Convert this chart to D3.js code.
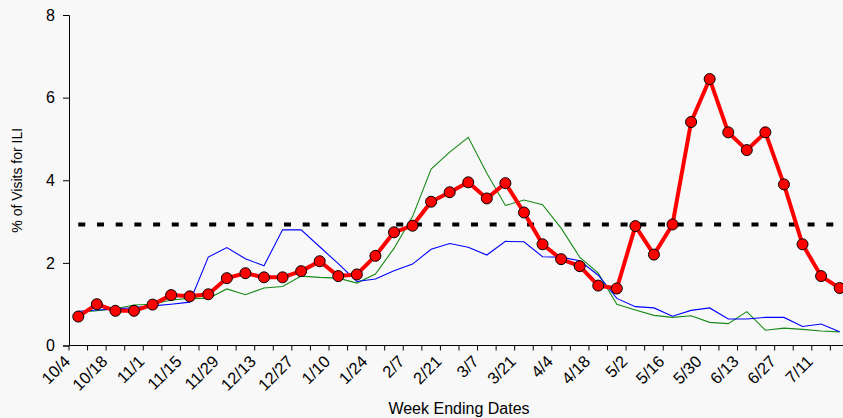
<!DOCTYPE html>
<html>
<head>
<meta charset="utf-8">
<script src="https://cdn.jsdelivr.net/npm/d3@7"></script>
<style>
  html, body { margin: 0; padding: 0; background: #f8f8f8; }
  svg { display: block; font-family: "Liberation Sans", Arial, sans-serif; }
</style>
</head>
<body>
<svg id="chart" width="843" height="418"></svg>
<script>
// Week-ending dates (week index 0 = 10/4)
const weeks = ["10/4","10/11","10/18","10/25","11/1","11/8","11/15","11/22","11/29","12/6",
  "12/13","12/20","12/27","1/3","1/10","1/17","1/24","1/31","2/7","2/14",
  "2/21","2/28","3/7","3/14","3/21","3/28","4/4","4/11","4/18","4/25",
  "5/2","5/9","5/16","5/23","5/30","6/6","6/13","6/20","6/27","7/4",
  "7/11","7/18"];
// Every second week is labelled
const tickLabels = weeks.filter((d, i) => i % 2 === 0);

// Current season (red with markers)
const currentSeason = [0.70,1.00,0.84,0.84,0.99,1.22,1.19,1.24,1.63,1.75,
  1.65,1.65,1.80,2.04,1.68,1.72,2.17,2.74,2.90,3.48,
  3.71,3.95,3.56,3.93,3.22,2.45,2.09,1.92,1.45,1.38,
  2.89,2.20,2.93,5.41,6.45,5.16,4.73,5.16,3.90,2.45,
  1.68,1.39];
// Previous season (blue)
const seasonBlue = [0.83,0.86,0.88,0.92,0.96,1.00,1.05,2.14,2.37,2.10,
  1.93,2.80,2.80,2.39,1.98,1.55,1.61,1.81,1.97,2.33,
  2.47,2.38,2.19,2.52,2.51,2.15,2.14,2.05,1.70,1.14,
  0.94,0.91,0.71,0.85,0.91,0.64,0.64,0.68,0.68,0.46,
  0.52,0.33];
// Earlier season (green)
const seasonGreen = [0.80,0.84,0.89,0.98,1.00,1.10,1.14,1.14,1.37,1.23,
  1.39,1.43,1.68,1.65,1.63,1.51,1.73,2.35,3.12,4.27,
  4.68,5.04,4.17,3.39,3.52,3.41,2.84,2.14,1.75,1.00,
  0.86,0.73,0.68,0.72,0.56,0.53,0.82,0.37,0.42,0.39,
  0.35,0.33];
// Baseline threshold (dashed)
const baseline = weeks.map(() => 2.93);

const yTicks = [0, 2, 4, 6, 8];

(function () {
const svg = d3.select("#chart");
const mLeft = 69, mTop = 15, mBottom = 345.5;
const band = 18.57;
const xEnd = mLeft + band * weeks.length;

const x = d3.scaleBand().domain(weeks).range([mLeft, xEnd]).padding(0);
const y = d3.scaleLinear().domain([0, 8]).range([mBottom, mTop]);
const cx = d => x(d) + x.bandwidth() / 2;

// y axis
const yAxis = d3.axisLeft(y).tickValues(yTicks).tickSize(6).tickPadding(8).tickFormat(d3.format("d"));
const gy = svg.append("g").attr("transform", `translate(${mLeft},0)`).call(yAxis);
gy.select(".domain").attr("stroke", "#000");
gy.selectAll(".tick line").attr("stroke", "#000");
gy.selectAll(".tick text").attr("font-size", 16).attr("fill", "#000")
  .attr("font-family", "Liberation Sans, Arial, sans-serif");

// x axis line and ticks at band edges
const gx = svg.append("g");
gx.append("line").attr("x1", mLeft).attr("x2", xEnd + 1)
  .attr("y1", mBottom).attr("y2", mBottom).attr("stroke", "#000");
gx.selectAll("line.xt").data(weeks.concat(["_end"])).enter().append("line")
  .attr("class", "xt")
  .attr("x1", (d, i) => mLeft + i * x.bandwidth())
  .attr("x2", (d, i) => mLeft + i * x.bandwidth())
  .attr("y1", mBottom).attr("y2", mBottom + 5).attr("stroke", "#000");
gx.selectAll("text").data(tickLabels).enter().append("text")
  .attr("transform", d => `translate(${cx(d) - 7},${mBottom + 17}) rotate(-45)`)
  .attr("text-anchor", "end")
  .attr("font-size", 16.5)
  .attr("fill", "#000")
  .text(d => d);

// Axis titles
svg.append("text")
  .attr("transform", `translate(22,${(mTop + mBottom) / 2}) rotate(-90)`)
  .attr("text-anchor", "middle").attr("font-size", 14).attr("fill", "#000")
  .text("% of Visits for ILI");
svg.append("text")
  .attr("x", (mLeft + xEnd) / 2).attr("y", 414)
  .attr("text-anchor", "middle").attr("font-size", 16).attr("fill", "#000")
  .text("Week Ending Dates");

const line = d3.line().x((d, i) => cx(weeks[i])).y(d => y(d));

svg.append("path").datum(seasonGreen).attr("d", line)
  .attr("fill", "none").attr("stroke", "#168a16").attr("stroke-width", 1.1);
svg.append("path").datum(seasonBlue).attr("d", line)
  .attr("fill", "none").attr("stroke", "#0000ff").attr("stroke-width", 1.1);
svg.append("path").datum(baseline).attr("d", line)
  .attr("fill", "none").attr("stroke", "#000").attr("stroke-width", 4)
  .attr("stroke-dasharray", "7,11.7");
svg.append("path").datum(currentSeason).attr("d", line)
  .attr("fill", "none").attr("stroke", "#ff0000").attr("stroke-width", 4)
  .attr("stroke-linejoin", "round");
svg.selectAll("circle.pt").data(currentSeason).enter().append("circle")
  .attr("class", "pt")
  .attr("cx", (d, i) => cx(weeks[i])).attr("cy", d => y(d))
  .attr("r", 5.5).attr("fill", "#ff0000").attr("stroke", "#000").attr("stroke-width", 1);
})();
</script>
</body>
</html>
